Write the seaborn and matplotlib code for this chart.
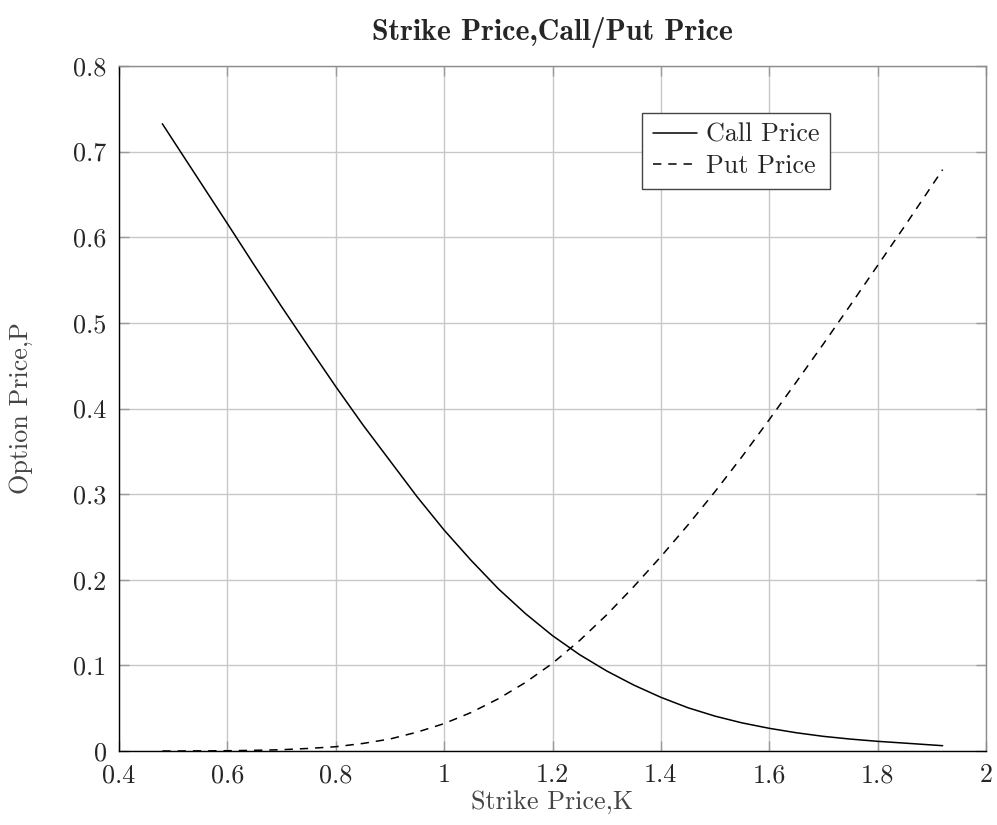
import matplotlib
matplotlib.use("Agg")
import matplotlib.pyplot as plt
import seaborn as sns
import pandas as pd

# Strike grid and option prices
strikes = [0.48, 0.5, 0.6, 0.65, 0.7, 0.75, 0.8, 0.85, 0.9, 0.95, 1.0, 1.05, 1.1, 1.15,
           1.2, 1.25, 1.3, 1.35, 1.4, 1.45, 1.5, 1.55, 1.6, 1.65, 1.7, 1.75, 1.8, 1.85, 1.92]
call_price = [0.7325, 0.713, 0.616, 0.567, 0.519, 0.472, 0.4256, 0.381, 0.339, 0.297,
              0.258, 0.2225, 0.1895, 0.1605, 0.1347, 0.1125, 0.0935, 0.0770, 0.0627, 0.0505,
              0.0407, 0.0328, 0.0265, 0.0213, 0.0171, 0.0139, 0.0113, 0.0092, 0.0062]
put_price = [0.0, 0.0, 0.0003, 0.0008, 0.0015, 0.003, 0.005, 0.0088, 0.014, 0.022,
             0.032, 0.045, 0.061, 0.080, 0.1024, 0.129, 0.159, 0.192, 0.227, 0.264,
             0.303, 0.344, 0.387, 0.431, 0.4755, 0.521, 0.567, 0.613, 0.679]

x_ticks = [0.4, 0.6, 0.8, 1.0, 1.2, 1.4, 1.6, 1.8, 2.0]
x_tick_labels = ["0.4", "0.6", "0.8", "1", "1.2", "1.4", "1.6", "1.8", "2"]
y_ticks = [0.0, 0.1, 0.2, 0.3, 0.4, 0.5, 0.6, 0.7, 0.8]
y_tick_labels = ["0", "0.1", "0.2", "0.3", "0.4", "0.5", "0.6", "0.7", "0.8"]

df = pd.DataFrame({"K": strikes, "Call": call_price, "Put": put_price})

sns.set_theme(style="white")
plt.rcParams["font.family"] = ["cmr10", "DejaVu Serif"]
plt.rcParams["mathtext.fontset"] = "cm"
plt.rcParams["axes.unicode_minus"] = False
plt.rcParams["axes.formatter.use_mathtext"] = True
plt.rcParams["lines.scale_dashes"] = False

fs = 18.8
fig = plt.figure(figsize=(9.97, 8.25), dpi=100)
ax = fig.add_axes([119 / 997, 74 / 825, (986 - 119) / 997, (751 - 66) / 825])

sns.lineplot(data=df, x="K", y="Call", color="black", linewidth=1.1,
             label="Call Price", ax=ax, sort=False)
sns.lineplot(data=df, x="K", y="Put", color="black", linewidth=1.1,
             linestyle=(0, (6, 5)), label="Put Price", ax=ax, sort=False)

ax.set_xlim(0.4, 2.0)
ax.set_ylim(0.0, 0.8)
ax.set_xticks(x_ticks)
ax.set_xticklabels(x_tick_labels)
ax.set_yticks(y_ticks)
ax.set_yticklabels(y_tick_labels)

ax.grid(True, color="#c8c8c8", linewidth=1.0)
ax.set_axisbelow(True)
ax.tick_params(axis="both", which="major", direction="in", length=7, width=1.0,
               color="#9a9a9a", labelsize=fs, pad=9, top=True, right=True,
               bottom=True, left=True)
for side in ["left", "bottom"]:
    ax.spines[side].set_color("black")
    ax.spines[side].set_linewidth(1.0)
for side in ["top", "right"]:
    ax.spines[side].set_color("#8c8c8c")
    ax.spines[side].set_linewidth(1.0)

ax.set_xlabel("Strike Price,K", fontsize=fs, color="#444444", labelpad=2)
ax.set_ylabel("Option Price,P", fontsize=fs, color="#444444", labelpad=29)
ax.set_title("Strike Price,Call/Put Price", fontsize=21.5,
             fontfamily=["cmb10", "DejaVu Serif"], pad=19)

leg = ax.legend(loc="upper right", bbox_to_anchor=(830 / 997, 1 - 112.7 / 825),
                bbox_transform=fig.transFigure, borderaxespad=0, fontsize=fs,
                frameon=True, fancybox=False, shadow=False, handlelength=1.7,
                handletextpad=0.35, borderpad=0.4, labelspacing=0.3)
leg.get_frame().set_edgecolor("#444444")
leg.get_frame().set_linewidth(1.0)
leg.get_frame().set_alpha(1.0)

fig.savefig("out.png", dpi=100)
